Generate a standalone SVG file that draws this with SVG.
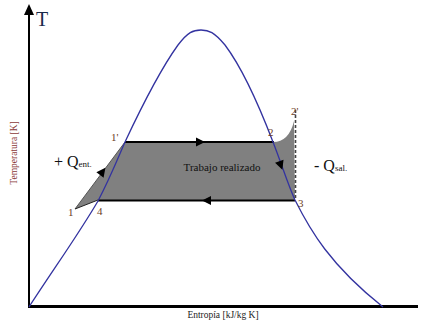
<svg xmlns="http://www.w3.org/2000/svg" width="423" height="331" viewBox="0 0 423 331">
<style>
text{font-family:"Liberation Serif","Times New Roman",serif}
.num{font-size:11px;fill:#6b3e1e}
.axis{stroke:#000;fill:none}
.dome{stroke:#3333a0;stroke-width:1.3;fill:none}
</style>
<defs>
<path id="ah" d="M4,0 L-5,-4.5 L-5,4.5 Z" fill="#000"/>
<marker id="up" markerWidth="10" markerHeight="10" refX="5" refY="9" orient="auto" markerUnits="userSpaceOnUse">
<path d="M0,10 L5,0 L10,10 Z" fill="#000"/>
</marker>
</defs>
<rect width="423" height="331" fill="#fff"/>
<g id="axes">
<line class="axis" x1="29" y1="307" x2="29" y2="14" stroke-width="2"/>
<path d="M29,4 L24,15 L34,15 Z" fill="#000"/>
<line class="axis" x1="28" y1="306.5" x2="418" y2="306.5" stroke-width="3"/>
<text x="36" y="26" font-size="20" fill="#1a2a4a">T</text>
<text transform="translate(17,153) rotate(-90)" font-size="9.5" text-anchor="middle" fill="#8b3a3a">Temperatura [K]</text>
<text x="223" y="318" font-size="9.5" text-anchor="middle" fill="#222">Entropía [kJ/kg K]</text>
</g>
<g id="cycle">
<path d="M75,209 L125,142 L273,142 Q289,142 294,121 L295,200 L98,200 Z" fill="#808080"/>
<line x1="75" y1="209" x2="125" y2="142" stroke="#555" stroke-width="1"/>
<line x1="75" y1="209" x2="98" y2="200" stroke="#222" stroke-width="1"/>
<line x1="125" y1="142" x2="274" y2="142" stroke="#000" stroke-width="2"/>
<line x1="98" y1="200.5" x2="295" y2="200.5" stroke="#000" stroke-width="2"/>
<line x1="295.5" y1="110" x2="295.5" y2="200" stroke="#444" stroke-width="1.6" stroke-dasharray="3,2"/>
<text x="222" y="171" font-size="11" text-anchor="middle" fill="#111">Trabajo realizado</text>
</g>
<g id="dome">
<path class="dome" d="M29,307 C55,267 80,232 98,201 C110,178 118,158 125,142 C140,110 160,70 178,45 C188,32 193,30 201,30 C209,30 214,32 225,45 C240,65 255,95 273,142 C282,165 288,185 295,200 C310,230 330,265 383,307"/>
</g>
<g id="connectors">
<use href="#ah" transform="translate(201,142)"/>
<use href="#ah" transform="translate(206,200.5) rotate(180)"/>
<use href="#ah" transform="translate(281,166) rotate(70)"/>
<use href="#ah" transform="translate(103,171) rotate(-53)"/>
</g>
<g id="labels">
<text class="num" x="111" y="141">1'</text>
<text class="num" x="268" y="136">2</text>
<text class="num" x="291" y="115" font-size="10">2'</text>
<text class="num" x="298" y="207">3</text>
<text class="num" x="97" y="215">4</text>
<text class="num" x="68" y="216">1</text>
<text x="54" y="167" font-size="16" fill="#111">+ Q<tspan font-size="9">ent.</tspan></text>
<text x="314" y="171" font-size="16" fill="#111">- Q<tspan font-size="9">sal.</tspan></text>
</g>
</svg>
